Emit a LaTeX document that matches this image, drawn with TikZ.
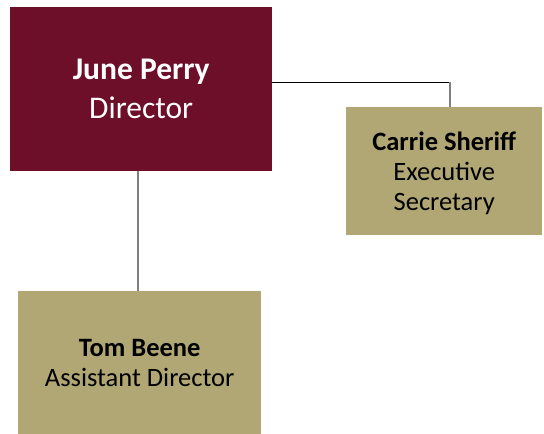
\documentclass[tikz,border=0pt]{standalone}
\usepackage{fontspec}
\setmainfont{Carlito}
\definecolor{garnet}{RGB}{110,15,42}
\definecolor{khaki}{RGB}{177,167,116}
\definecolor{linegray}{RGB}{128,128,128}
\tikzset{
  boxbase/.style={rectangle, inner sep=0pt, anchor=north west, align=center},
  topbox/.style={boxbase, fill=garnet, text=white, font=\fontsize{31.5}{39}\selectfont},
  subbox/.style={boxbase, fill=khaki, text=black, font=\fontsize{26.5}{30}\selectfont},
  conn/.style={draw=linegray, line width=1.5pt},
  connblack/.style={draw=black, line width=1pt}
}
\begin{document}
\begin{tikzpicture}[x=1pt,y=-1pt]
\useasboundingbox (0,0) rectangle (544,434);
\node[topbox, minimum width=262pt, minimum height=164pt] (june) at (10,7)
  {\textbf{June Perry}\\Director};
\node[subbox, text depth=0pt, minimum width=196pt, minimum height=128pt] (carrie) at (346,107)
  {\textbf{Carrie Sheriff}\\Executive\\Secretary};
\node[subbox, minimum width=243pt, minimum height=143pt] (tom) at (18,291)
  {\textbf{Tom Beene}\\Assistant Director};
\coordinate (bend) at (450,82);
\draw[connblack] (june.east |- bend) -- (bend);
\draw[conn] (bend) -- (carrie.north -| bend);
\draw[conn] (june.south -| 138,0) -- (tom.north -| 138,0);
\end{tikzpicture}
\end{document}
